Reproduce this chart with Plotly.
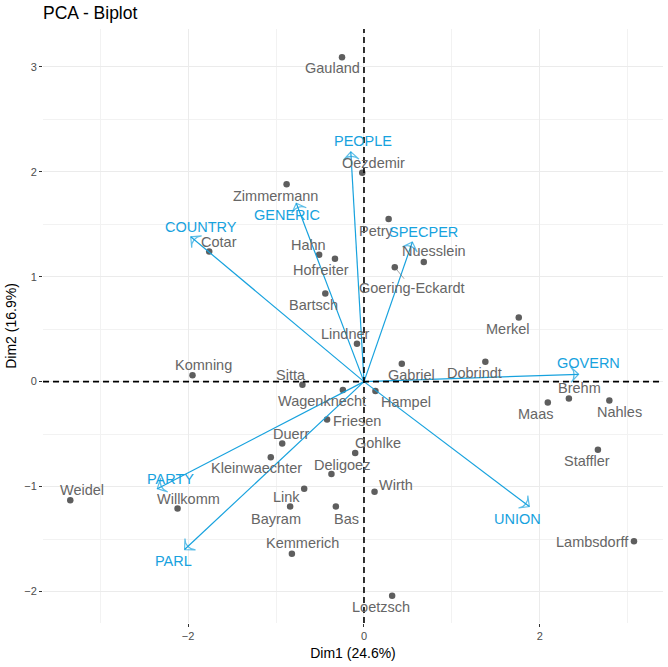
import plotly.graph_objects as go

# individuals (Dim1, Dim2 coordinates)
names = ["Gauland", "Oezdemir", "Zimmermann", "Petry", "Nuesslein", "Goering-Eckardt",
         "Cotar", "Hahn", "Hofreiter", "Bartsch", "Lindner", "Merkel", "Gabriel",
         "Dobrindt", "Komning", "Sitta", "Wagenknecht", "Hampel", "Friesen", "Duerr",
         "Kleinwaechter", "Gohlke", "Deligoez", "Link", "Wirth", "Bayram", "Bas",
         "Kemmerich", "Weidel", "Willkomm", "Loetzsch", "Brehm", "Maas", "Nahles",
         "Staffler", "Lambsdorff"]
dim1 = [-0.25, -0.02, -0.88, 0.28, 0.68, 0.35,
        -1.76, -0.51, -0.33, -0.44, -0.08, 1.76, 0.43,
        1.38, -1.95, -0.70, -0.24, 0.13, -0.42, -0.93,
        -1.06, -0.10, -0.37, -0.68, 0.12, -0.84, -0.32,
        -0.82, -3.34, -2.12, 0.32, 2.33, 2.09, 2.79,
        2.66, 3.07]
dim2 = [3.09, 1.99, 1.88, 1.55, 1.14, 1.09,
        1.24, 1.21, 1.17, 0.84, 0.36, 0.61, 0.17,
        0.19, 0.06, -0.03, -0.08, -0.09, -0.36, -0.59,
        -0.72, -0.68, -0.88, -1.02, -1.05, -1.19, -1.19,
        -1.64, -1.13, -1.21, -2.04, -0.16, -0.20, -0.18,
        -0.65, -1.52]

# variables (arrow tips)
var_names = ["PEOPLE", "GENERIC", "COUNTRY", "SPECPER", "GOVERN", "UNION", "PARTY", "PARL"]
var_dim1 = [-0.15, -0.77, -1.97, 0.55, 2.44, 1.88, -2.35, -2.04]
var_dim2 = [2.19, 1.70, 1.38, 1.33, 0.07, -1.19, -1.02, -1.60]

# label offsets in pixels (dx right, dy down), repel-style placement
ind_offsets = {
    "Gauland": (-10, 11), "Oezdemir": (11, -10), "Zimmermann": (-11, 12),
    "Petry": (-12, 12), "Nuesslein": (10, -11), "Goering-Eckardt": (17, 21),
    "Cotar": (10, -9), "Hahn": (-11, -10), "Hofreiter": (-14, 11),
    "Bartsch": (-12, 12), "Lindner": (-11, -10), "Merkel": (-11, 11),
    "Gabriel": (10, 11), "Dobrindt": (-11, 11), "Komning": (11, -10),
    "Sitta": (-11, -10), "Wagenknecht": (-21, 11), "Hampel": (31, 11),
    "Friesen": (30, 2), "Duerr": (9, -10), "Kleinwaechter": (-14, 11),
    "Gohlke": (23, -10), "Deligoez": (11, -9), "Link": (-18, 8),
    "Wirth": (21, -7), "Bayram": (-14, 12), "Bas": (11, 12),
    "Kemmerich": (11, -11), "Weidel": (12, -10), "Willkomm": (11, -10),
    "Loetzsch": (-11, 11), "Brehm": (11, -10), "Maas": (-12, 11),
    "Nahles": (10, 11), "Staffler": (-11, 11), "Lambsdorff": (-41, 1),
}
var_offsets = {
    "PEOPLE": (12, -11), "GENERIC": (-9, 12), "COUNTRY": (10, -10),
    "SPECPER": (11, -10), "GOVERN": (10, -11), "UNION": (-12, 12),
    "PARTY": (13, -10), "PARL": (-11, 11),
}

VAR_COL = "#17a2de"
IND_COL = "#5e5e5e"
TXT_COL = "#666666"
FONT = "Liberation Sans, Arial, sans-serif"

fig = go.Figure()

zero_line = dict(color="black", width=1.6, dash="6px,4px")
fig.add_hline(y=0, line=zero_line)
fig.add_vline(x=0, line=zero_line)

fig.add_trace(go.Scatter(
    x=dim1, y=dim2, mode="markers",
    marker=dict(color=IND_COL, size=6.5),
    hovertext=names, showlegend=False,
))

for vn, vx, vy in zip(var_names, var_dim1, var_dim2):
    fig.add_trace(go.Scatter(
        x=[0, vx], y=[0, vy], mode="lines+markers",
        line=dict(color=VAR_COL, width=1.2),
        marker=dict(symbol="arrow-wide-open", size=[0, 11], angleref="previous",
                    color=VAR_COL, line=dict(color=VAR_COL, width=1.2)),
        hovertext=vn, showlegend=False,
    ))

for n, x, y in zip(names, dim1, dim2):
    dx, dy = ind_offsets[n]
    if n == "Goering-Eckardt":
        fig.add_annotation(x=x, y=y, text=n, showarrow=True, ax=dx, ay=dy,
                           arrowhead=0, arrowwidth=0.7, arrowcolor="#7a7a7a",
                           standoff=3, font=dict(family=FONT, size=14.5, color=TXT_COL))
    else:
        fig.add_annotation(x=x, y=y, text=n, showarrow=False, xshift=dx, yshift=-dy,
                           font=dict(family=FONT, size=14.5, color=TXT_COL))

for n, x, y in zip(var_names, var_dim1, var_dim2):
    dx, dy = var_offsets[n]
    fig.add_annotation(x=x, y=y, text=n, showarrow=False, xshift=dx, yshift=-dy,
                       font=dict(family=FONT, size=14.5, color=VAR_COL))

axis_common = dict(
    showgrid=True, gridcolor="#ebebeb", gridwidth=1.1, zeroline=False,
    showline=False, ticks="outside", ticklen=3, tickcolor="#333333", tickwidth=1,
    tickfont=dict(family=FONT, size=11, color="#4d4d4d"),
)

fig.update_xaxes(
    range=[-3.65, 3.40], tickmode="linear", tick0=0, dtick=2,
    minor=dict(showgrid=True, dtick=1, tick0=0, gridcolor="#f2f2f2", gridwidth=0.6),
    title=dict(text="Dim1 (24.6%)", font=dict(family=FONT, size=14, color="black"), standoff=6),
    **axis_common,
)
fig.update_yaxes(
    range=[-2.30, 3.36], tickmode="linear", tick0=0, dtick=1,
    minor=dict(showgrid=True, dtick=0.5, tick0=0, gridcolor="#f2f2f2", gridwidth=0.6),
    title=dict(text="Dim2 (16.9%)", font=dict(family=FONT, size=14, color="black"), standoff=4),
    **axis_common,
)

fig.update_layout(
    width=668, height=667,
    plot_bgcolor="white", paper_bgcolor="white",
    margin=dict(l=43, r=5, t=29, b=44),
    title=dict(text="PCA - Biplot", x=43 / 668, xanchor="left", y=1 - 12.5 / 667, yanchor="middle",
               font=dict(family=FONT, size=17.5, color="black")),
)

# drop the browser's default body margin so the figure sits at the page corner
fig.write_html("out.html", config={"displayModeBar": False},
               post_script="document.body.style.margin='0';")
